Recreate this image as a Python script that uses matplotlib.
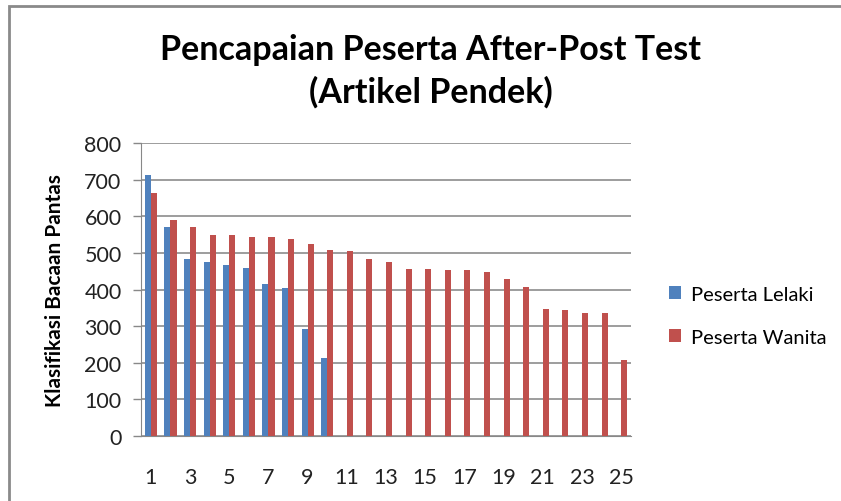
import numpy as np
import matplotlib.pyplot as plt
from matplotlib.patches import Rectangle

# peserta number 1..25
peserta = list(range(1, 26))
lelaki = [712, 570, 484, 474, 467, 460, 415, 405, 293, 214] + [np.nan] * 15
wanita = [663, 591, 570, 550, 550, 543, 543, 539, 525, 509,
          504, 484, 474, 456, 456, 453, 453, 449, 428, 407,
          346, 343, 336, 336, 207]
tick_labels = [str(p) if p % 2 == 1 else '' for p in peserta]

plt.rcParams['font.family'] = ['Lato', 'DejaVu Sans']

fig = plt.figure(figsize=(8.41, 5.02), dpi=100)
ax = fig.add_axes([0.1677, 0.1295, 0.5826, 0.5836])

index = np.arange(len(peserta))
bar_width = 0.31

ax.bar(index - bar_width / 2, lelaki, bar_width, color='#4F81BD', label='Peserta Lelaki', zorder=3)
ax.bar(index + bar_width / 2, wanita, bar_width, color='#C0504D', label='Peserta Wanita', zorder=3)

ax.set_xlim(-0.5, len(peserta) - 0.5)
ax.set_ylim(0, 800)
ax.set_yticks(np.arange(0, 801, 100))
ax.set_xticks(index)
ax.set_xticklabels(tick_labels)
ax.tick_params(axis='x', length=0, pad=22, labelsize=15.5, colors='#222222')
ax.tick_params(axis='y', length=6, width=1, color='#888888', pad=8, labelsize=15.5, labelcolor='#222222')
ax.grid(axis='y', color='#8c8c8c', linewidth=1.2, zorder=0)

for side in ['top', 'right']:
	ax.spines[side].set_visible(False)
ax.spines['left'].set_color('#888888')
ax.spines['bottom'].set_color('#888888')

ax.set_ylabel('Klasifikasi Bacaan Pantas', fontsize=15, fontweight='bold', labelpad=14)

fig.text(0.512, 0.858, 'Pencapaian Peserta After-Post Test\n(Artikel Pendek)',
         ha='center', va='center', fontsize=24.5, fontweight='bold', linespacing=1.35)

ax.legend(loc='center left', bbox_to_anchor=(1.04, 0.41), frameon=False,
          fontsize=14.5, handlelength=0.6, handleheight=0.6, handletextpad=0.5,
          labelspacing=1.3)

# outer chart frame
fig.patches.append(Rectangle((9 / 841, -0.05), 1.1, 1 - 7 / 502 + 0.05,
                             transform=fig.transFigure, fill=False,
                             edgecolor='#8a8a8a', linewidth=2))

fig.savefig('out.png', dpi=100)
